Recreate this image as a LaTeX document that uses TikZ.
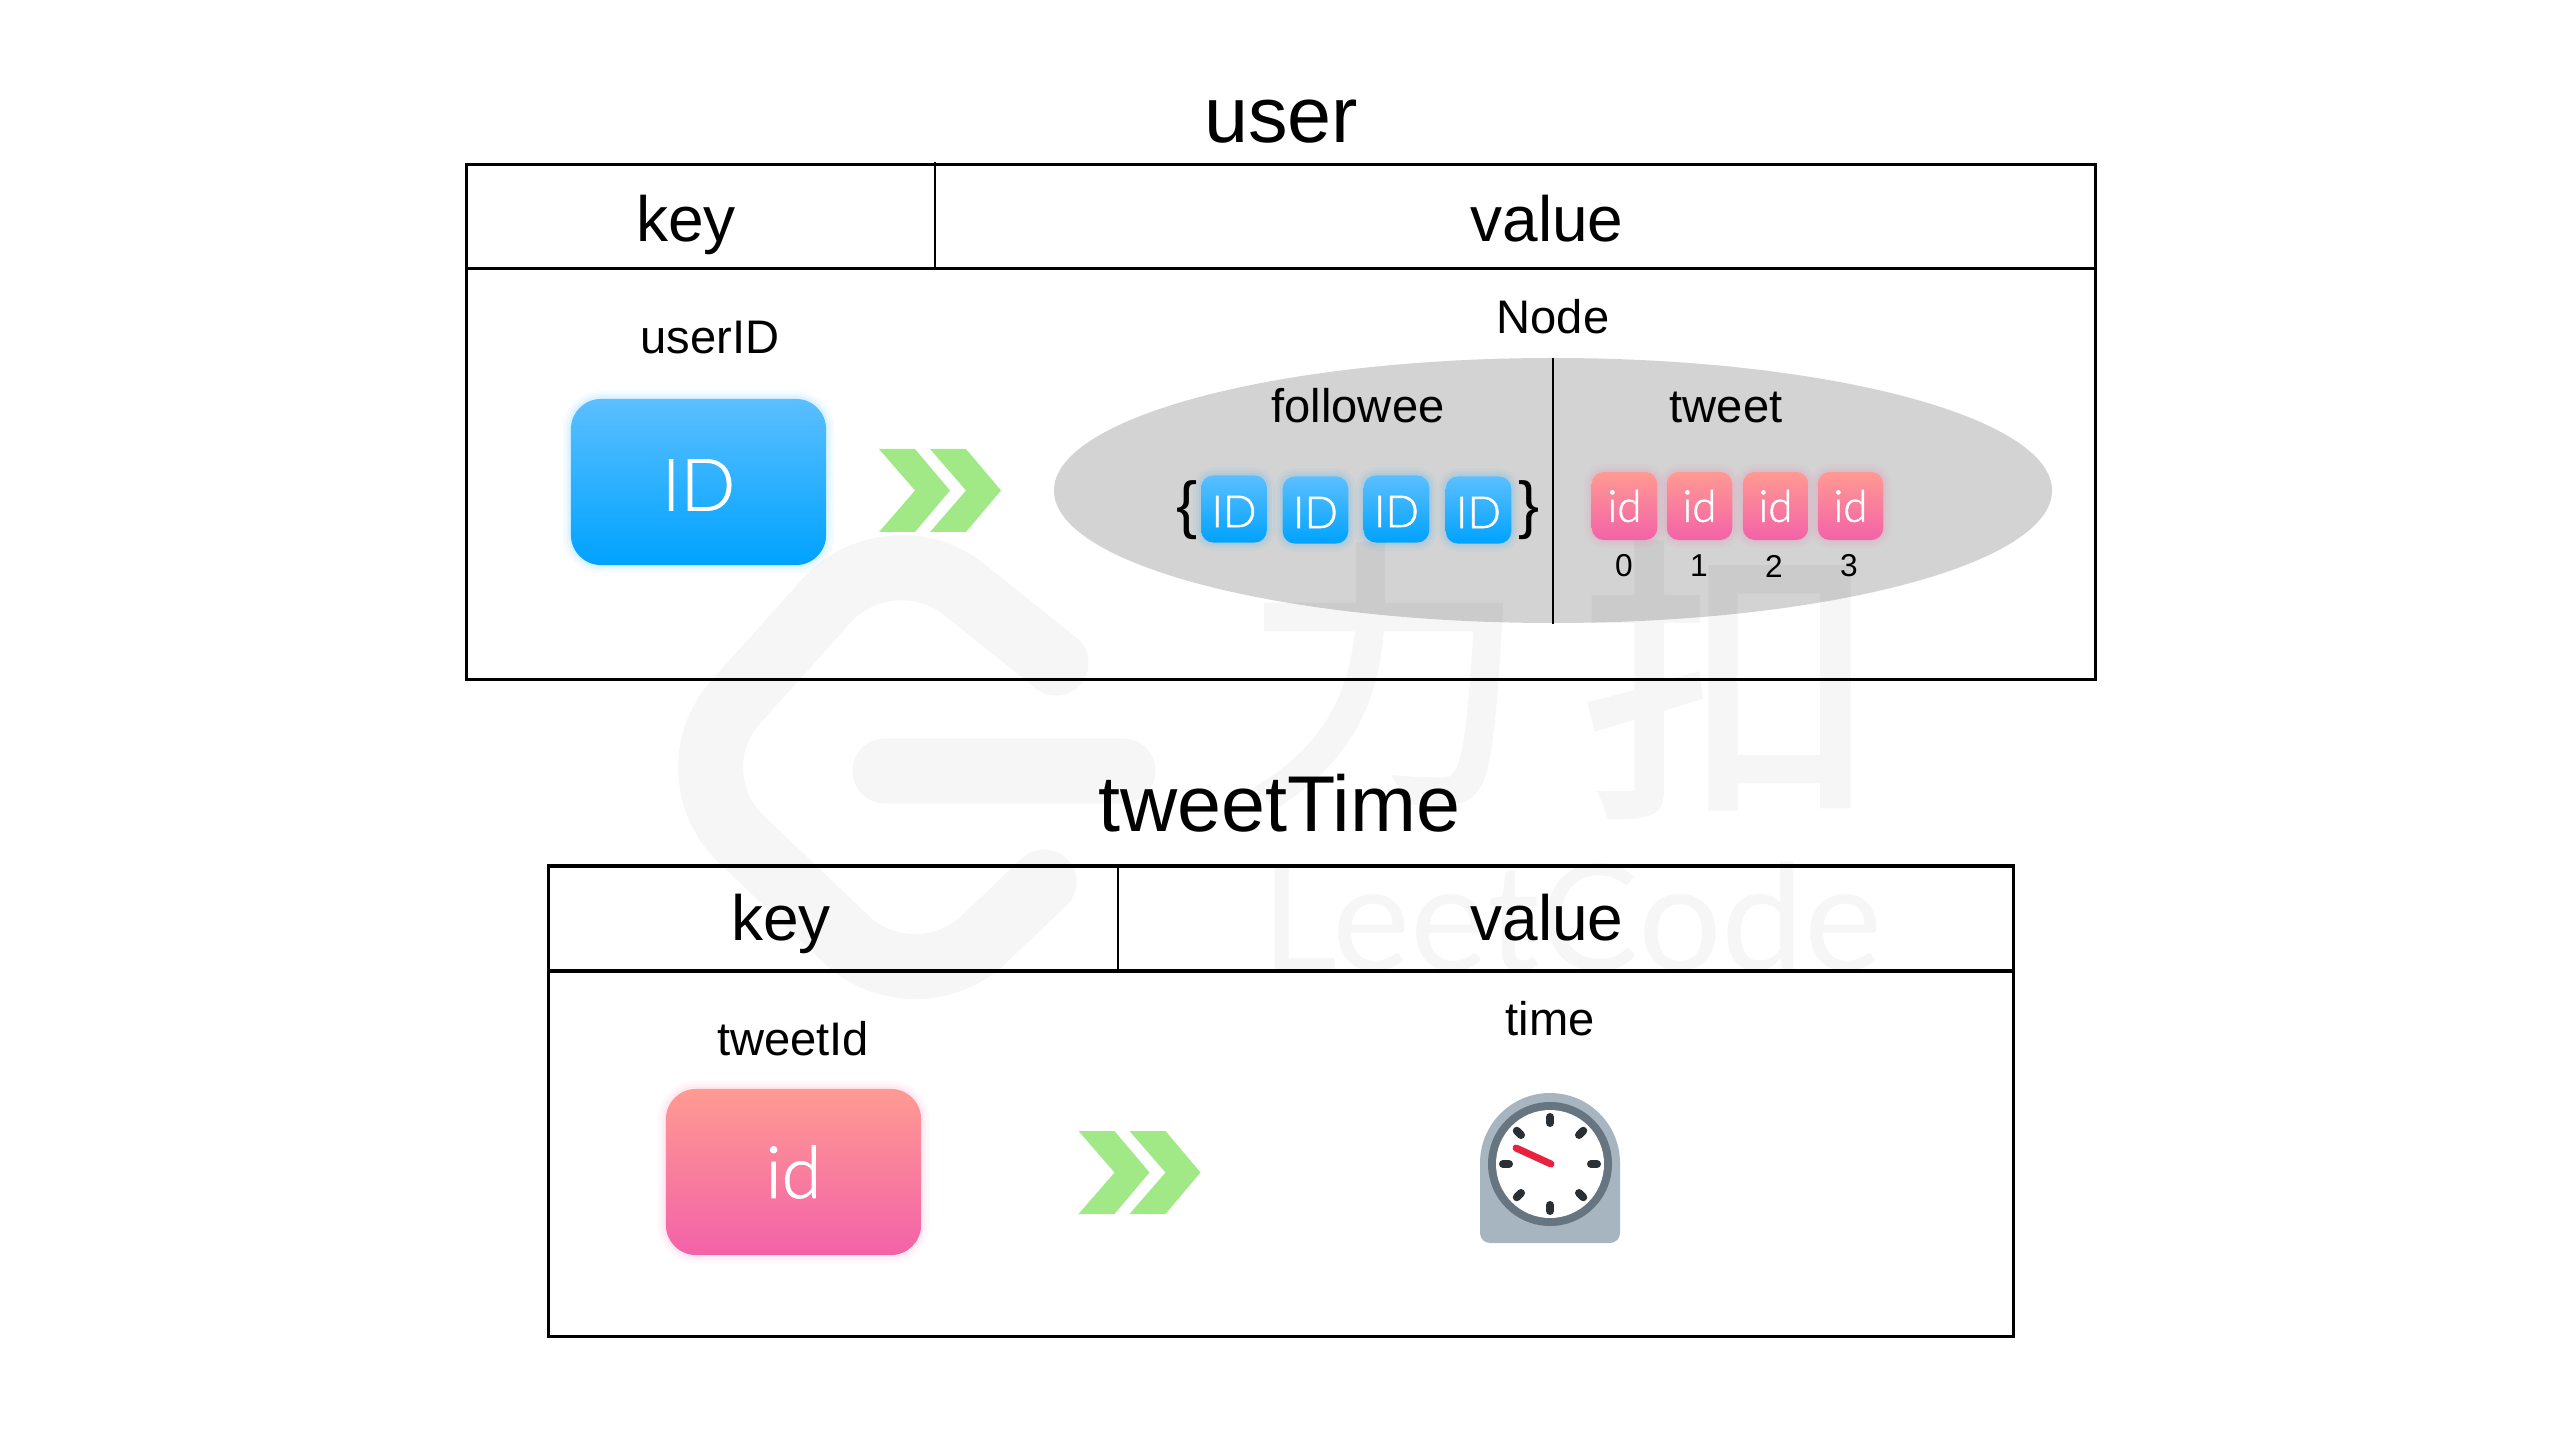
\documentclass[tikz,border=0pt]{standalone}
\usepackage{fontspec}
\usepackage{xcolor}
\usepackage{tikz}
\usetikzlibrary{arrows.meta, calc}
\setmainfont{Liberation Sans}
\newfontfamily\wmcjk[FakeBold=2.5]{Noto Sans CJK SC}
\newfontfamily\wmlatin{Lato}
\newfontfamily\boxfont[FakeBold=1.3]{Lato Light}
\definecolor{nodegray}{HTML}{D3D3D3}
\definecolor{chevgreen}{HTML}{A1E986}
\definecolor{bluetop}{HTML}{5BBFFF}
\definecolor{bluebot}{HTML}{00A2FF}
\definecolor{pinktop}{HTML}{FF9A92}
\definecolor{pinkbot}{HTML}{F362A8}
\definecolor{clockbody}{HTML}{A6B5C0}
\definecolor{clockring}{HTML}{66757F}
\definecolor{clocktick}{HTML}{292F33}
\definecolor{clockhand}{HTML}{E8213F}
\tikzset{
  title/.style={anchor=base, font=\fontsize{22.5pt}{26pt}\selectfont},
  head/.style={anchor=base, font=\fontsize{18.2pt}{22pt}\selectfont},
  sub/.style={anchor=base, font=\fontsize{13.4pt}{16pt}\selectfont},
  index/.style={font=\fontsize{9pt}{11pt}\selectfont},
  brace/.style={font=\fontsize{18pt}{22pt}\selectfont},
  bluebox/.style={inner sep=0pt, text=white, top color=bluetop, bottom color=bluebot,
    preaction={draw=bluebot, draw opacity=.04, line width=.16cm},
    preaction={draw=bluebot, draw opacity=.05, line width=.1cm},
    preaction={draw=bluebot, draw opacity=.06, line width=.05cm}},
  pinkbox/.style={inner sep=0pt, text=white, top color=pinktop, bottom color=pinkbot,
    preaction={draw=pinkbot, draw opacity=.04, line width=.16cm},
    preaction={draw=pinkbot, draw opacity=.05, line width=.1cm},
    preaction={draw=pinkbot, draw opacity=.06, line width=.05cm}},
  bigbox/.style={minimum width=2.55cm, minimum height=1.66cm, rounded corners=.3cm,
    font=\boxfont\fontsize{20.5pt}{24pt}\selectfont},
  smallbox/.style={minimum width=.655cm, minimum height=.67cm, rounded corners=.12cm,
    font=\boxfont\fontsize{12.5pt}{14pt}\selectfont},
  table/.style={line width=.03cm},
  thin line/.style={line width=.025cm},
  chevrons/.pic={
    \foreach \dx in {0,51} {
      \fill[chevgreen] (\dx,0) -- ++(36,0) -- ++(35,41.5) -- ++(-35,41.5) -- ++(-36,0) -- ++(36,-41.5) -- cycle;
    }
  }
}
\begin{document}
\begin{tikzpicture}[x=.01cm, y=-.01cm]
    \useasboundingbox (0,0) rectangle (2560,1440);
    % Top table
    \node[title] (usertitle) at (1281,142.5) {user};
    \draw[table] (466,165) rectangle (2095,680);
    \draw[table] (466,269) -- (2095,269);
    \draw[thin line] (935,162) -- (935,267);
    \node[head] (userkey) at (686,242) {key};
    \node[head] (uservalue) at (1547,242) {value};
    \node[sub] (userid) at (710,354) {userID};
    \node[sub] (nodelabel) at (1553,334) {Node};
    \node[bluebox, bigbox] (bigid) at (698.5,482) {\raisebox{-.03cm}[.51cm][0cm]{ID}};
    \path (879,449) pic {chevrons};
    % Node ellipse
    \fill[nodegray] (1553,490.5) ellipse [x radius=499, y radius=132.5];
    \draw[thin line] (1553,358) -- (1553,624);
    \node[sub] (followee) at (1358,423) {followee};
    \node[sub] (tweet) at (1726,423) {tweet};
    \node[brace] (lbrace) at (1187,510) {\{};
    \node[brace] (rbrace) at (1529,510) {\}};
    % Followee boxes
    \foreach \x/\y [count=\i] in {1234/509,1315.5/510,1396.5/509,1478.5/510} {
        \node[bluebox, smallbox] (fid\i) at (\x,\y) {\raisebox{-.02cm}[.32cm][0cm]{ID}};
    }
    % Tweet boxes
    \foreach \x/\n [count=\i from 0] in {1624.5/1624,1699.5/1699,1775.5/1774,1850.5/1849} {
        \node[pinkbox, smallbox, minimum height=.68cm] (tid\i) at (\x,506) {id};
        \node[index] (tnum\i) at (\n,566) {\i};
    }
    % Bottom table
    \node[title] (timetitle) at (1279,831) {tweetTime};
    \draw[table] (548,866) rectangle (2013,1336);
    \draw[table] (548,971) -- (2013,971);
    \draw[thin line] (1118,866) -- (1118,971);
    \node[head] (timekey) at (781,941) {key};
    \node[head] (timevalue) at (1547,941) {value};
    \node[sub] (tweetid) at (793,1055) {tweetId};
    \node[sub] (timelabel) at (1550,1035) {time};
    \node[pinkbox, bigbox] (bigtid) at (793.5,1172) {id};
    \path (1078.5,1131) pic {chevrons};
    % Clock
    \fill[clockbody] (1480,1163) arc (180:360:70) [rounded corners=.1cm] -- (1620,1243) -- (1480,1243) [sharp corners] -- cycle;
    \fill[clockring] (1550,1164) circle [radius=62];
    \fill[white] (1550,1164) circle [radius=54];
    \foreach \a in {0,45,...,315} {
        \draw[clocktick, line width=.08cm, line cap=round] ($(1550,1164)+(\a:41)$) -- ($(1550,1164)+(\a:47)$);
    }
    \draw[clockhand, line width=.07cm, line cap=round] (1551,1164) -- (1516,1148);
    % Watermark
    \begin{scope}[transparency group, opacity=.035]
        \draw[line width=.65cm, line cap=round, rounded corners=.95cm]
            (1056,663) -- (890,530) -- (672,773) -- (915,1005) -- (1044,882);
        \draw[line width=.65cm, line cap=round] (885,771) -- (1123,771);
        \node[font=\wmcjk\fontsize{80pt}{90pt}\selectfont] (wmli) at (1385,675) {力};
        \node[font=\wmcjk\fontsize{84pt}{90pt}\selectfont] (wmkou) at (1730,680) {扣};
        \node[anchor=base, font=\wmlatin\fontsize{42pt}{48pt}\selectfont] (wmtext) at (1572,970) {LeetCode};
    \end{scope}
\end{tikzpicture}
\end{document}
